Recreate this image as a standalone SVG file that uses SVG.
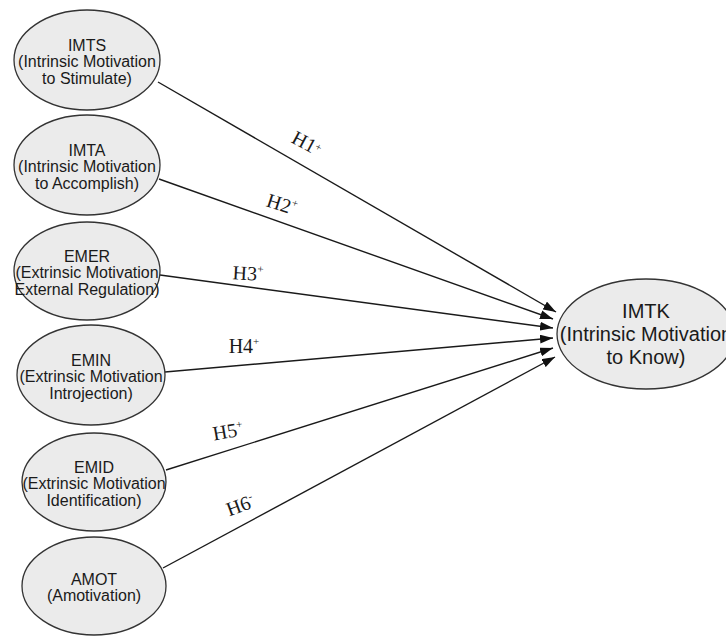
<svg xmlns="http://www.w3.org/2000/svg" width="726" height="636" viewBox="0 0 726 636">
<defs>
<style>
.node ellipse{fill:#ebebeb;stroke:#333;stroke-width:1.3}
.node text{font-family:"Liberation Sans",Arial,sans-serif;font-size:16px;fill:#1a1a1a;text-anchor:middle}
#IMTK text{font-size:20px}
.edges line{stroke:#1a1a1a;stroke-width:1.4;marker-end:url(#arr)}
.lbl{font-family:"Liberation Serif","Times New Roman",serif;font-size:20px;fill:#1a1a1a;text-anchor:middle}
.sup{font-size:11px}
</style>
<marker id="arr" viewBox="0 0 13 9" refX="13" refY="4.5" markerWidth="13" markerHeight="9" orient="auto" markerUnits="userSpaceOnUse">
<path d="M0,0 L13,4.5 L0,9 Z" fill="#111"/>
</marker>
</defs>
<rect width="726" height="636" fill="#fff"/>
<g class="edges">
<line x1="158" y1="82" x2="556" y2="312"/>
<line x1="159" y1="179" x2="553" y2="319"/>
<line x1="160" y1="275" x2="553" y2="328"/>
<line x1="165" y1="372" x2="553" y2="338"/>
<line x1="166" y1="470" x2="553" y2="348"/>
<line x1="163" y1="568" x2="555" y2="357"/>
<text class="lbl" transform="translate(307,143) rotate(28)" x="0" y="7">H1<tspan class="sup" dy="-5">+</tspan></text>
<text class="lbl" transform="translate(282,204) rotate(18)" x="0" y="7">H2<tspan class="sup" dy="-8">+</tspan></text>
<text class="lbl" transform="translate(248,273) rotate(3)" x="0" y="7">H3<tspan class="sup" dy="-8">+</tspan></text>
<text class="lbl" x="244" y="353">H4<tspan class="sup" dy="-8">+</tspan></text>
<text class="lbl" transform="translate(228,431) rotate(-10)" x="0" y="7">H5<tspan class="sup" dy="-8">+</tspan></text>
<text class="lbl" transform="translate(240,505) rotate(-20)" x="0" y="7">H6<tspan class="sup" dy="-8">-</tspan></text>
</g>
<g id="IMTS" class="node">
<ellipse cx="87" cy="60" rx="73" ry="50"/>
<text x="87" y="51">IMTS</text>
<text x="87" y="67">(Intrinsic Motivation</text>
<text x="87" y="84">to Stimulate)</text>
</g>
<g id="IMTA" class="node">
<ellipse cx="87" cy="165" rx="73" ry="50"/>
<text x="87" y="156">IMTA</text>
<text x="87" y="172">(Intrinsic Motivation</text>
<text x="87" y="189">to Accomplish)</text>
</g>
<g id="EMER" class="node">
<ellipse cx="87" cy="271" rx="73" ry="49"/>
<text x="87" y="262">EMER</text>
<text x="87" y="278">(Extrinsic Motivation</text>
<text x="87" y="295">External Regulation)</text>
</g>
<g id="EMIN" class="node">
<ellipse cx="91" cy="375" rx="74" ry="50"/>
<text x="91" y="366">EMIN</text>
<text x="91" y="382">(Extrinsic Motivation</text>
<text x="91" y="399">Introjection)</text>
</g>
<g id="EMID" class="node">
<ellipse cx="94" cy="482" rx="72" ry="49"/>
<text x="94" y="473">EMID</text>
<text x="94" y="489">(Extrinsic Motivation</text>
<text x="94" y="506">Identification)</text>
</g>
<g id="AMOT" class="node">
<ellipse cx="94" cy="586" rx="72" ry="49"/>
<text x="94" y="585">AMOT</text>
<text x="94" y="601">(Amotivation)</text>
</g>
<g id="IMTK" class="node">
<ellipse cx="646" cy="334" rx="89" ry="55"/>
<text x="646" y="318">IMTK</text>
<text x="646" y="341">(Intrinsic Motivation</text>
<text x="646" y="364">to Know)</text>
</g>
</svg>
